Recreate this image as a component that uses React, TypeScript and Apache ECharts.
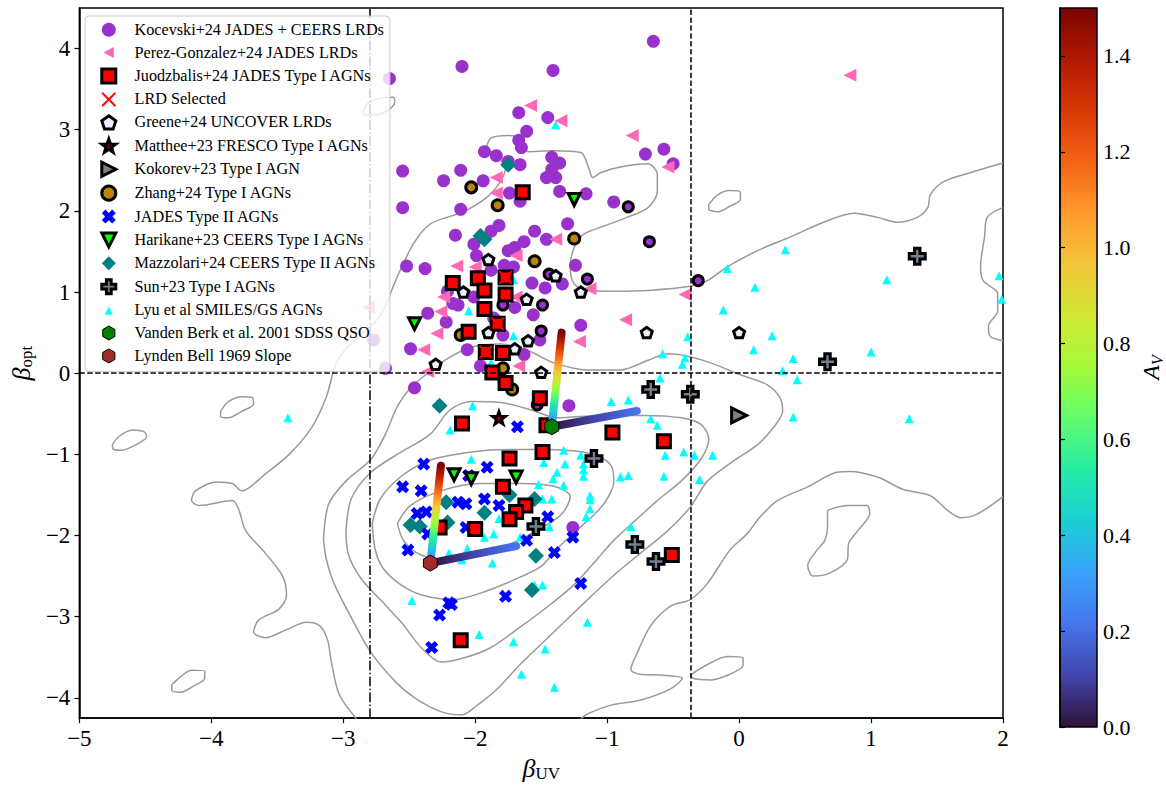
import React, { useEffect, useRef } from 'react';
import * as echarts from 'echarts';

// ---------- axis ticks ----------
const X_MIN = -5;
const X_MAX = 2;
const Y_MIN = -4.25;
const Y_MAX = 4.5;
const Y_TICKS = [-4, -3, -2, -1, 0, 1, 2, 3, 4];
const CB_MIN = 0;
const CB_MAX = 1.5;
const CB_TICKS = [0, 0.2, 0.4, 0.6, 0.8, 1.0, 1.2, 1.4];

// reference cuts
const BETA_UV_BLUE_CUT = -2.8;
const BETA_UV_RED_CUT = -0.37;
const BETA_OPT_CUT = 0;

// ---------- series values [beta_UV, beta_opt] ----------
const KOCEVSKI = [
  [-0.65, 4.09], [-2.10, 3.78], [-1.41, 3.73], [-2.65, 3.63], [-1.67, 3.21], [-1.45, 3.15], [-1.61, 2.98],
  [-1.67, 2.87], [-1.65, 2.78], [-1.93, 2.73], [-1.84, 2.68], [-1.75, 2.61], [-1.66, 2.57], [-1.42, 2.66],
  [-1.36, 2.59], [-1.42, 2.51], [-1.46, 2.41], [-1.39, 2.41], [-0.71, 2.70], [-0.57, 2.76], [-0.50, 2.58],
  [-2.55, 2.49], [-2.11, 2.50], [-2.24, 2.37], [-1.94, 2.37], [-1.36, 2.24], [-1.16, 2.21], [-1.74, 2.22],
  [-1.66, 2.12], [-2.55, 2.04], [-2.11, 2.02], [-0.95, 2.11], [-1.30, 1.84], [-2.15, 1.70], [-1.88, 1.75],
  [-1.82, 1.82], [-1.55, 1.75], [-1.46, 1.65], [-2.01, 1.59], [-1.99, 1.45], [-1.75, 1.51], [-1.70, 1.55],
  [-1.63, 1.62], [-2.52, 1.32], [-2.38, 1.29], [-1.78, 1.33], [-1.71, 1.31], [-1.88, 1.27], [-1.24, 1.33],
  [-1.57, 1.11], [-1.47, 1.05], [-1.34, 1.10], [-2.21, 1.01], [-2.17, 0.86], [-2.13, 0.84], [-2.01, 0.94],
  [-2.36, 0.74], [-2.22, 0.63], [-1.70, 0.81], [-1.56, 0.72], [-1.86, 0.68], [-1.20, 0.59], [-2.49, 0.30],
  [-2.06, 0.29], [-1.51, 0.41], [-1.96, 0.09], [-2.68, 0.06], [-1.79, 0.47], [-1.63, 0.23], [-2.77, 0.41],
  [-2.46, -0.18], [-1.29, -0.40], [-1.26, -1.90],
];
const KOCEVSKI_MATCHED = [
  [-0.84, 2.05], [-0.68, 1.62], [-1.15, 1.16], [-1.49, 0.84], [-1.50, 0.52], [-0.31, 1.14], [-1.44, 1.22],
  [-1.79, 0.84], [-1.53, -0.39],
];
const PEREZ = [
  [-2.81, 0.81], [-1.58, 3.30], [-1.35, 3.11], [-0.81, 2.93], [-0.54, 2.54], [-1.84, 2.41], [-1.84, 2.22],
  [-1.39, 1.65], [-2.14, 1.32], [-2.00, 1.31], [-2.24, 0.94], [-2.26, 0.76], [-2.29, 0.49], [-2.39, 0.29],
  [-2.36, 0.02], [-1.69, 1.45], [-1.69, 0.94], [-1.67, 0.09], [-1.13, 1.04], [-0.86, 0.66], [-1.21, 0.39],
  [-0.41, 0.97], [0.84, 3.67],
];
const JUODZBALIS = [
  [-1.64, 2.23], [-2.17, 1.11], [-1.98, 1.17], [-1.93, 1.02], [-1.77, 0.97], [-1.77, 1.18], [-1.93, 0.79],
  [-1.83, 0.61], [-2.05, 0.51], [-1.92, 0.26], [-1.79, 0.25], [-1.87, 0.01], [-1.77, -0.12], [-1.51, -0.31],
  [-1.46, -0.64], [-2.10, -0.62], [-0.96, -0.73], [-0.57, -0.84], [-1.49, -0.97], [-1.74, -1.05],
  [-1.79, -1.40], [-1.62, -1.63], [-1.69, -1.71], [-1.74, -1.80], [-2.27, -1.90], [-2.00, -1.92],
  [-0.51, -2.24], [-2.11, -3.29],
];
const LRD_SELECTED = [[-1.77, 1.18], [-1.83, 0.61], [-1.92, 0.26]];
const GREENE = [
  [-1.90, 1.40], [-2.09, 1.00], [-1.61, 0.91], [-1.39, 1.20], [-1.20, 1.00], [-1.60, 0.40], [-1.70, 0.30],
  [-1.90, 0.50], [-2.30, 0.11], [-1.50, 0.01], [-0.70, 0.50], [0.00, 0.50],
];
const MATTHEE = [[-1.82, -0.55]];
const KOKOREV = [[0.00, -0.52]];
const ZHANG = [[-2.03, 2.29], [-1.83, 2.07], [-1.25, 1.66], [-1.55, 1.38], [-1.79, 0.06], [-2.11, 0.47], [-1.72, -0.20]];
const JADES_T2 = [
  [-1.68, -0.66], [-2.39, -1.12], [-1.91, -1.16], [-2.55, -1.40], [-2.41, -1.45], [-2.05, -1.26], [-1.93, -1.55],
  [-2.13, -1.59], [-2.07, -1.61], [-1.82, -1.63], [-2.44, -1.73], [-2.37, -1.71], [-1.45, -1.77], [-2.07, -1.90],
  [-2.36, -1.98], [-1.61, -2.06], [-1.26, -2.02], [-2.51, -2.18], [-1.40, -2.21], [-1.20, -2.59], [-1.77, -2.75],
  [-2.20, -2.83], [-2.18, -2.85], [-2.27, -2.98], [-2.33, -3.38],
];
const HARIKANE = [[-1.25, 2.14], [-2.46, 0.61], [-2.16, -1.25], [-2.03, -1.30], [-1.69, -1.28]];
const MAZZOLARI = [
  [-1.75, 2.57], [-1.96, 1.69], [-1.93, 1.65], [-2.27, -0.40], [-2.49, -1.87], [-2.42, -1.89], [-2.22, -1.59],
  [-2.21, -1.84], [-1.93, -1.72], [-1.74, -1.50], [-1.55, -1.55], [-1.54, -2.25], [-1.57, -2.67],
];
const SUN = [[1.35, 1.44], [0.67, 0.14], [-0.67, -0.20], [-0.37, -0.26], [-1.10, -1.05], [-1.54, -1.89], [-0.79, -2.11], [-0.63, -2.32]];
const LYU = [
  [-1.39, 3.06], [-2.05, 0.77], [-1.71, 0.46], [-1.88, 0.13], [-0.58, 0.24], [-0.43, 0.11], [-0.41, 0.19],
  [-0.39, 0.45], [-0.60, -0.06], [-1.71, 1.15], [0.35, 1.52], [-0.09, 1.29], [0.12, 1.06], [-0.12, 0.78],
  [0.25, 0.46], [0.11, 0.29], [0.41, 0.18], [0.33, 0.03], [0.44, -0.08], [1.00, 0.26], [1.12, 1.15],
  [1.97, 1.20], [1.99, 0.91], [0.41, -0.54], [1.29, -0.56], [-0.34, -1.01], [-0.20, -1.01], [-0.30, -1.31],
  [-3.42, -0.55], [-0.97, -0.35], [-0.84, -0.33], [-2.02, -0.40], [-2.19, -0.70], [-0.67, -0.56], [-0.62, -0.64],
  [-0.56, -1.01], [-0.42, -0.97], [-0.57, -1.27], [-0.90, -1.28], [-0.84, -1.26], [-1.33, -0.95], [-1.20, -1.01],
  [-1.32, -1.12], [-1.18, -1.12], [-1.18, -1.19], [-1.18, -1.27], [-1.41, -1.30], [-1.33, -1.38], [-1.13, -1.51],
  [-1.13, -1.56], [-1.13, -1.67], [-1.16, -1.77], [-1.42, -1.55], [-1.52, -1.37], [-1.49, -1.55], [-1.48, -1.10],
  [-2.03, -1.06], [-1.82, -1.79], [-1.44, -1.89], [-1.66, -2.02], [-1.93, -2.02], [-1.86, -1.98], [-2.06, -2.16],
  [-2.20, -2.22], [-2.10, -2.30], [-1.87, -2.34], [-0.82, -1.89], [-1.55, -2.61], [-1.49, -2.61], [-1.15, -3.07],
  [-2.48, -2.80], [-1.97, -3.22], [-1.71, -3.31], [-1.47, -3.40], [-1.65, -3.71], [-1.40, -3.87], [-1.38, -1.22],
];
const VANDEN_BERK = [[-1.42, -0.66]];
const LYNDEN_BELL = [[-2.34, -2.34]];

// reddening tracks (A_V from the base point to the tip)
const VB_TRACK_A = [[-1.42, -0.66], [-1.345, 0.50]];
const VB_TRACK_B = [[-1.42, -0.66], [-0.775, -0.465]];
const LB_TRACK_A = [[-2.34, -2.34], [-2.26, -1.14]];
const LB_TRACK_B = [[-2.34, -2.34], [-1.69, -2.13]];

// ---------- density contours ----------
const CONTOUR_A = [[-2.59, -1.85], [-2.49, -1.63], [-2.26, -1.45], [-1.96, -1.36], [-1.66, -1.36], [-1.39, -1.40], [-1.28, -1.52], [-1.34, -1.73], [-1.50, -1.91], [-1.73, -2.10], [-2.00, -2.24], [-2.22, -2.30], [-2.41, -2.24], [-2.54, -2.07], [-2.59, -1.85]];
const CONTOUR_B = [[-2.78, -1.85], [-2.72, -1.55], [-2.56, -1.27], [-2.34, -1.07], [-2.03, -0.97], [-1.74, -0.94], [-1.45, -0.94], [-1.24, -0.96], [-1.07, -1.02], [-0.97, -1.14], [-0.95, -1.33], [-1.00, -1.55], [-1.09, -1.73], [-1.24, -1.95], [-1.39, -2.18], [-1.50, -2.38], [-1.71, -2.55], [-1.96, -2.71], [-2.16, -2.79], [-2.39, -2.74], [-2.56, -2.61], [-2.70, -2.40], [-2.76, -2.16], [-2.78, -1.85]];
const CONTOUR_C = [[-2.98, -1.97], [-2.94, -1.55], [-2.79, -1.22], [-2.56, -0.97], [-2.34, -0.75], [-2.19, -0.45], [-2.03, -0.35], [-1.81, -0.36], [-1.58, -0.45], [-1.38, -0.55], [-1.05, -0.52], [-0.72, -0.52], [-0.44, -0.55], [-0.29, -0.63], [-0.23, -0.81], [-0.29, -1.06], [-0.44, -1.33], [-0.62, -1.57], [-0.79, -1.82], [-0.95, -2.06], [-1.07, -2.28], [-1.24, -2.59], [-1.43, -2.85], [-1.66, -3.13], [-1.88, -3.38], [-2.07, -3.50], [-2.26, -3.56], [-2.41, -3.38], [-2.56, -3.07], [-2.72, -2.79], [-2.87, -2.52], [-2.96, -2.24], [-2.98, -1.97]];
const CONTOUR_D = [[-3.15, -2.04], [-3.11, -1.61], [-2.98, -1.33], [-2.79, -1.06], [-2.68, -0.75], [-2.59, -0.41], [-2.49, -0.18], [-2.36, 0.00], [-2.21, 0.18], [-2.03, 0.32], [-1.81, 0.36], [-1.60, 0.28], [-1.41, 0.13], [-1.15, 0.04], [-0.90, 0.04], [-0.69, 0.16], [-0.54, 0.24], [-0.39, 0.21], [-0.22, 0.13], [0.01, -0.02], [0.21, -0.14], [0.31, -0.30], [0.33, -0.47], [0.26, -0.67], [0.14, -0.88], [-0.04, -1.08], [-0.24, -1.33], [-0.37, -1.65], [-0.54, -1.94], [-0.75, -2.22], [-0.97, -2.52], [-1.20, -2.87], [-1.43, -3.23], [-1.66, -3.59], [-1.84, -3.90], [-2.00, -4.11], [-2.10, -4.21], [-2.26, -4.17], [-2.45, -4.01], [-2.60, -3.81], [-2.79, -3.44], [-2.94, -3.01], [-3.07, -2.59], [-3.13, -2.28], [-3.15, -2.04]];
const CONTOUR_E1 = [[-2.90, -4.26], [-3.03, -3.96], [-3.09, -3.56], [-3.12, -3.28], [-3.18, -3.11], [-3.28, -3.07], [-3.43, -3.16], [-3.59, -3.26], [-3.68, -3.19], [-3.64, -3.04], [-3.49, -2.91], [-3.43, -2.74], [-3.46, -2.50], [-3.59, -2.22], [-3.74, -1.94], [-3.79, -1.69], [-3.84, -1.57], [-4.09, -1.63], [-4.15, -1.57], [-4.12, -1.45], [-3.96, -1.34], [-3.84, -1.36], [-3.77, -1.45], [-3.59, -1.24], [-3.41, -1.00], [-3.24, -0.67], [-3.13, -0.30], [-3.06, 0.10], [-3.00, 0.26], [-2.87, 0.47], [-2.72, 0.71], [-2.59, 1.19], [-2.47, 1.59], [-2.34, 1.84], [-2.09, 1.99], [-1.91, 2.17], [-1.81, 2.36], [-1.77, 2.53], [-1.82, 2.65], [-1.91, 2.79], [-1.88, 2.90], [-1.75, 2.93], [-1.66, 2.91], [-1.60, 2.73], [-1.41, 2.74], [-1.20, 2.72], [-1.14, 2.53], [-1.11, 2.41], [-1.05, 2.47], [-0.90, 2.54], [-0.69, 2.58], [-0.62, 2.45], [-0.62, 2.24], [-0.69, 2.04], [-0.85, 1.92], [-1.03, 1.81], [-1.18, 1.71], [-1.25, 1.55], [-1.28, 1.31], [-1.25, 1.10], [-1.15, 1.02], [-0.95, 1.01], [-0.69, 1.02], [-0.37, 1.07], [-0.24, 1.14], [-0.09, 1.31], [0.14, 1.51], [0.39, 1.68], [0.64, 1.86], [0.87, 1.97], [1.05, 1.92], [1.20, 1.86], [1.35, 1.92], [1.43, 2.04], [1.45, 2.20], [1.55, 2.36], [1.77, 2.48], [2.00, 2.59]];
const CONTOUR_E2 = [[2.00, -1.52], [1.80, -1.74], [1.68, -1.78], [1.58, -1.69], [1.45, -1.51], [1.24, -1.43], [1.05, -1.28], [0.84, -1.21], [0.74, -1.22], [0.52, -1.40], [0.29, -1.57], [0.16, -1.77], [0.06, -1.98], [-0.07, -2.18], [-0.24, -2.59], [-0.37, -2.79], [-0.52, -2.87], [-0.67, -3.11], [-0.77, -3.44], [-0.82, -3.65], [-0.75, -3.71], [-0.60, -3.72], [-0.43, -3.76], [-0.52, -3.89], [-0.75, -4.03], [-0.97, -4.09], [-1.15, -4.20], [-1.20, -4.26]];
const CONTOUR_E3 = [[2.00, 2.04], [1.88, 1.92], [1.86, 1.68], [1.83, 1.31], [1.85, 1.14], [1.96, 0.98], [1.96, 0.77], [1.89, 0.58], [1.90, 0.46], [2.00, 0.40]];
const ISLAND_1 = [[-2.85, 3.22], [-2.81, 3.33], [-2.72, 3.39], [-2.62, 3.40], [-2.61, 3.34], [-2.66, 3.24], [-2.77, 3.18], [-2.84, 3.18], [-2.85, 3.22]];
const ISLAND_2 = [[-0.23, 2.08], [-0.16, 2.20], [-0.07, 2.25], [0.01, 2.23], [0.01, 2.14], [-0.07, 2.06], [-0.16, 1.99], [-0.23, 2.02], [-0.23, 2.08]];
const ISLAND_3 = [[-4.75, -0.88], [-4.70, -0.78], [-4.60, -0.70], [-4.51, -0.72], [-4.49, -0.78], [-4.57, -0.88], [-4.68, -0.95], [-4.74, -0.94], [-4.75, -0.88]];
const ISLAND_4 = [[-3.93, -0.47], [-3.87, -0.35], [-3.77, -0.29], [-3.69, -0.30], [-3.68, -0.38], [-3.77, -0.47], [-3.87, -0.55], [-3.93, -0.53], [-3.93, -0.47]];
const ISLAND_5 = [[-4.30, -3.84], [-4.24, -3.75], [-4.15, -3.66], [-4.05, -3.67], [-4.05, -3.76], [-4.13, -3.85], [-4.23, -3.93], [-4.30, -3.91], [-4.30, -3.84]];
const ISLAND_6 = [[0.67, -1.69], [0.82, -1.63], [0.97, -1.63], [0.99, -1.73], [0.90, -1.94], [0.83, -2.10], [0.82, -2.30], [0.69, -2.46], [0.56, -2.50], [0.52, -2.37], [0.59, -2.18], [0.65, -2.06], [0.67, -1.89], [0.67, -1.69]];
const ISLAND_7 = [[-0.37, -3.72], [-0.24, -3.59], [-0.09, -3.49], [0.03, -3.51], [0.03, -3.60], [-0.07, -3.71], [-0.22, -3.78], [-0.35, -3.76], [-0.37, -3.72]];

// ---------- names ----------
const N = {
  kocevski: 'Kocevski+24 JADES + CEERS LRDs',
  perez: 'Perez-Gonzalez+24 JADES LRDs',
  juod: 'Juodzbalis+24 JADES Type I AGNs',
  lrd: 'LRD Selected',
  greene: 'Greene+24 UNCOVER LRDs',
  matthee: 'Matthee+23 FRESCO Type I AGNs',
  kokorev: 'Kokorev+23 Type I AGN',
  zhang: 'Zhang+24 Type I AGNs',
  jades: 'JADES Type II AGNs',
  harikane: 'Harikane+23 CEERS Type I AGNs',
  mazz: 'Mazzolari+24 CEERS Type II AGNs',
  sun: 'Sun+23 Type I AGNs',
  lyu: 'Lyu et al SMILES/GS AGNs',
  vb: 'Vanden Berk et al. 2001 SDSS QSO',
  lb: 'Lynden Bell 1969 Slope',
};

const TURBO = ['#30123b', '#4145ab', '#4675ed', '#39a2fc', '#1bcfd4', '#24eca6', '#61fc6c', '#a4fc3b', '#d1e834', '#f3c63a', '#fe9b2d', '#f36315', '#d93806', '#b11901', '#7a0403'];

const SYM = {
  triLeft: 'path://M0,5L10,0L10,10Z',
  triRight: 'path://M10,5L0,0L0,10Z',
  triDown: 'path://M0,0L10,0L5,10Z',
  triUp: 'path://M5,0L10,10L0,10Z',
  pentagon: 'path://M0,-1L0.951,-0.309L0.588,0.809L-0.588,0.809L-0.951,-0.309Z',
  hexagon: 'path://M0,-1L0.866,-0.5L0.866,0.5L0,1L-0.866,0.5L-0.866,-0.5Z',
  star: 'path://M0,-1L0.235,-0.324L0.951,-0.309L0.38,0.124L0.588,0.809L0,0.4L-0.588,0.809L-0.38,0.124L-0.951,-0.309L-0.235,-0.324Z',
  thinX: 'path://M0,0L1.4,0L7,5.6L12.6,0L14,0L14,1.4L8.4,7L14,12.6L14,14L12.6,14L7,8.4L1.4,14L0,14L0,12.6L5.6,7L0,1.4Z',
  boldX: 'path://M0,2.6L2.6,0L5,2.4L7.4,0L10,2.6L7.6,5L10,7.4L7.4,10L5,7.6L2.6,10L0,7.4L2.4,5Z',
  plus: 'path://M3.3,0L6.7,0L6.7,3.3L10,3.3L10,6.7L6.7,6.7L6.7,10L3.3,10L3.3,6.7L0,6.7L0,3.3L3.3,3.3Z',
};
const LEG_TRI_LEFT = 'path://M0,0M14,14M1.5,7L12,1.5L12,12.5Z';
const LEG_TRI_UP = 'path://M0,0M14,14M3,11.5L7,3.5L11,11.5Z';

const SERIF = 'Liberation Serif';
const fmtMinus = (v: number) => (v < 0 ? '\u2212' + Math.abs(v) : String(v));

function scatter(name: string, data: number[][], symbol: string, size: number, itemStyle: any) {
  return {
    type: 'scatter', name, data, symbol, symbolSize: size, symbolKeepAspect: true,
    itemStyle: { borderJoin: 'miter', opacity: 1, ...itemStyle }, silent: true, emphasis: { disabled: true },
    xAxisIndex: 0, yAxisIndex: 0,
  };
}
function contour(data: number[][], extra: any = {}) {
  return {
    type: 'line', data, showSymbol: false, symbol: 'none', smooth: 0.3, silent: true, z: 1,
    lineStyle: { color: '#9a9a9a', width: 1.5 }, emphasis: { disabled: true },
    xAxisIndex: 0, yAxisIndex: 0, ...extra,
  };
}
function track(data: number[][], vertical: boolean) {
  const colors = vertical ? TURBO.slice(2) : TURBO.slice(0, 3);
  const colorStops = colors.map((c, i) => ({ offset: i / (colors.length - 1), color: c }));
  return {
    type: 'line', data, showSymbol: false, symbol: 'none', silent: true, z: 5,
    lineStyle: {
      width: 8, cap: 'round', opacity: 1,
      color: vertical
        ? { type: 'linear', x: 0, y: 1, x2: 0, y2: 0, colorStops }
        : { type: 'linear', x: 0, y: 0, x2: 1, y2: 0, colorStops },
    },
    emphasis: { disabled: true }, xAxisIndex: 0, yAxisIndex: 0,
  };
}

function buildOption() {
  const dashed = [5.5, 2.4];
  const dashDot = [9.6, 2.4, 1.5, 2.4];
  const legendData = [
    { name: N.kocevski, icon: 'circle', itemStyle: { color: '#9932CC', borderWidth: 0 } },
    { name: N.perez, icon: LEG_TRI_LEFT, itemStyle: { color: '#FF69B4', borderWidth: 0 } },
    { name: N.juod, icon: 'rect', itemStyle: { color: '#FF0000', borderColor: '#000', borderWidth: 3 } },
    { name: N.lrd, icon: SYM.thinX, itemStyle: { color: '#FF0000', borderWidth: 0 } },
    { name: N.greene, icon: SYM.pentagon, itemStyle: { color: '#EEEEFF', borderColor: '#000', borderWidth: 3 } },
    { name: N.matthee, icon: SYM.star, itemStyle: { color: '#8B0000', borderColor: '#000', borderWidth: 3 } },
    { name: N.kokorev, icon: SYM.triRight, itemStyle: { color: '#808080', borderColor: '#000', borderWidth: 3 } },
    { name: N.zhang, icon: 'circle', itemStyle: { color: '#B8860B', borderColor: '#000', borderWidth: 3 } },
    { name: N.jades, icon: SYM.boldX, itemStyle: { color: '#0000FF', borderWidth: 0 } },
    { name: N.harikane, icon: SYM.triDown, itemStyle: { color: '#00FF00', borderColor: '#000', borderWidth: 3 } },
    { name: N.mazz, icon: 'diamond', itemStyle: { color: '#008080', borderWidth: 0 } },
    { name: N.sun, icon: SYM.plus, itemStyle: { color: '#708090', borderColor: '#000', borderWidth: 3 } },
    { name: N.lyu, icon: LEG_TRI_UP, itemStyle: { color: '#00FFFF', borderWidth: 0 } },
    { name: N.vb, icon: SYM.hexagon, itemStyle: { color: '#008000', borderColor: '#000', borderWidth: 1 } },
    { name: N.lb, icon: SYM.hexagon, itemStyle: { color: '#A52A2A', borderColor: '#000', borderWidth: 1 } },
  ];

  const series: any[] = [
    contour(CONTOUR_A, {
      markLine: {
        silent: true, symbol: ['none', 'none'], label: { show: false }, emphasis: { disabled: true },
        lineStyle: { color: '#000', width: 1.5 },
        data: [
          { xAxis: BETA_UV_BLUE_CUT, lineStyle: { color: '#000', width: 1.5, type: dashDot } },
          { xAxis: BETA_UV_RED_CUT, lineStyle: { color: '#000', width: 1.5, type: dashed } },
          { yAxis: BETA_OPT_CUT, lineStyle: { color: '#000', width: 1.5, type: dashed } },
        ],
      },
    }),
    contour(CONTOUR_B), contour(CONTOUR_C), contour(CONTOUR_D),
    contour(CONTOUR_E1), contour(CONTOUR_E2), contour(CONTOUR_E3),
    contour(ISLAND_1), contour(ISLAND_2), contour(ISLAND_3), contour(ISLAND_4),
    contour(ISLAND_5), contour(ISLAND_6), contour(ISLAND_7),

    scatter(N.lyu, LYU, SYM.triUp, 9, { color: '#00FFFF' }),
    scatter(N.kocevski, KOCEVSKI, 'circle', 13, { color: '#9932CC' }),
    scatter(N.perez, PEREZ, SYM.triLeft, 13, { color: '#FF69B4' }),
    scatter(N.mazz, MAZZOLARI, 'diamond', 16, { color: '#008080' }),
    scatter(N.jades, JADES_T2, SYM.boldX, 13, { color: '#0000FF' }),
    scatter(N.zhang, ZHANG, 'circle', 11, { color: '#B8860B', borderColor: '#000', borderWidth: 3 }),
    scatter('Kocevski matched', KOCEVSKI_MATCHED, 'circle', 10, { color: '#9932CC', borderColor: '#000', borderWidth: 3 }),
    scatter(N.juod, JUODZBALIS, 'rect', 13, { color: '#FF0000', borderColor: '#000', borderWidth: 3 }),
    scatter(N.lrd, LRD_SELECTED, SYM.thinX, 13, { color: '#FF0000' }),
    scatter(N.greene, GREENE, SYM.pentagon, 11, { color: '#EEEEFF', borderColor: '#000', borderWidth: 3 }),
    scatter(N.matthee, MATTHEE, SYM.star, 14, { color: '#8B0000', borderColor: '#000', borderWidth: 2.5 }),
    scatter(N.kokorev, KOKOREV, SYM.triRight, 15, { color: '#808080', borderColor: '#000', borderWidth: 3 }),
    scatter(N.harikane, HARIKANE, SYM.triDown, 12, { color: '#00FF00', borderColor: '#000', borderWidth: 3 }),
    scatter(N.sun, SUN, SYM.plus, 16, { color: '#708090', borderColor: '#000', borderWidth: 3 }),

    track(VB_TRACK_A, true), track(VB_TRACK_B, false),
    track(LB_TRACK_A, true), track(LB_TRACK_B, false),

    { ...scatter(N.vb, VANDEN_BERK, SYM.hexagon, 16, { color: '#008000', borderColor: '#000', borderWidth: 1 }), z: 6 },
    { ...scatter(N.lb, LYNDEN_BELL, SYM.hexagon, 16, { color: '#A52A2A', borderColor: '#000', borderWidth: 1 }), z: 6 },
  ];

  const cbStops = TURBO.map((c, i) => ({ offset: i / (TURBO.length - 1), color: c }));

  return {
    animation: false,
    backgroundColor: '#ffffff',
    textStyle: { fontFamily: SERIF },
    grid: [
      { left: 78, top: 8, width: 925, height: 719, show: true, borderColor: '#000', borderWidth: 1.5, backgroundColor: 'transparent' },
      { left: 1060, top: 8, width: 37, height: 719, show: false },
    ],
    xAxis: [
      {
        type: 'value', gridIndex: 0, min: X_MIN, max: X_MAX, interval: 1,
        axisLine: { show: true, onZero: false, lineStyle: { color: '#000', width: 1.5 } },
        axisTick: { show: true, inside: false, length: 5, lineStyle: { color: '#000', width: 1.2 } },
        axisLabel: { color: '#000', fontFamily: SERIF, fontSize: 23, margin: 9, formatter: fmtMinus },
        splitLine: { show: false },
        name: '{b|β}{s|UV}', nameLocation: 'middle', nameGap: 30,
        nameTextStyle: {
          rich: {
            b: { fontFamily: SERIF, fontStyle: 'italic', fontSize: 26, lineHeight: 28, color: '#000' },
            s: { fontFamily: SERIF, fontSize: 17, lineHeight: 14, verticalAlign: 'bottom', color: '#000' },
          },
        },
      },
      { type: 'value', gridIndex: 1, min: 0, max: 1, show: false },
    ],
    yAxis: [
      {
        type: 'value', gridIndex: 0, min: Y_MIN, max: Y_MAX,
        axisLine: { show: true, onZero: false, lineStyle: { color: '#000', width: 1.5 } },
        axisTick: { show: true, inside: false, length: 5, customValues: Y_TICKS, lineStyle: { color: '#000', width: 1.2 } },
        axisLabel: { color: '#000', fontFamily: SERIF, fontSize: 23, margin: 9, customValues: Y_TICKS, formatter: fmtMinus },
        splitLine: { show: false },
        name: '{b|β}{s|opt}', nameLocation: 'middle', nameGap: 38, nameRotate: 90,
        nameTextStyle: {
          rich: {
            b: { fontFamily: SERIF, fontStyle: 'italic', fontSize: 26, lineHeight: 28, color: '#000' },
            s: { fontFamily: SERIF, fontSize: 17, lineHeight: 14, verticalAlign: 'bottom', color: '#000' },
          },
        },
      },
      {
        type: 'value', gridIndex: 1, min: CB_MIN, max: CB_MAX, position: 'right',
        axisLine: { show: true, lineStyle: { color: '#000', width: 1.5 } },
        axisTick: { show: true, inside: false, length: 5, customValues: CB_TICKS, lineStyle: { color: '#000', width: 1.2 } },
        axisLabel: { color: '#000', fontFamily: SERIF, fontSize: 22, margin: 8, customValues: CB_TICKS, formatter: (v: number) => v.toFixed(1) },
        splitLine: { show: false },
        name: '{a|A}{v|V}', nameLocation: 'middle', nameGap: 42, nameRotate: 90,
        nameTextStyle: {
          rich: {
            a: { fontFamily: SERIF, fontStyle: 'italic', fontSize: 24, lineHeight: 28, color: '#000' },
            v: { fontFamily: SERIF, fontStyle: 'italic', fontSize: 16, lineHeight: 14, verticalAlign: 'bottom', color: '#000' },
          },
        },
      },
    ],
    graphic: [
      {
        type: 'rect', z: 0, silent: true,
        shape: { x: 1060, y: 8, width: 37, height: 719 },
        style: { fill: { type: 'linear', x: 0, y: 1, x2: 0, y2: 0, colorStops: cbStops }, stroke: '#000', lineWidth: 1.5 },
      },
    ],
    legend: {
      show: true, orient: 'vertical', left: 85, top: 16, z: 10,
      itemWidth: 14, itemHeight: 14, itemGap: 6.9,
      padding: [5.7, 6, 7.7, 15.3],
      backgroundColor: 'rgba(255,255,255,0.8)', borderColor: '#cccccc', borderWidth: 1, borderRadius: 4,
      selectedMode: false,
      textStyle: { fontFamily: SERIF, fontSize: 16.2, color: '#000', lineHeight: 14, padding: [0, 0, 0, 13.7] },
      data: legendData,
    },
    series,
  };
}

export default function App() {
  const ref = useRef<HTMLDivElement>(null);
  useEffect(() => {
    document.body.style.margin = '0';
    const chart = echarts.init(ref.current as HTMLDivElement, null, { renderer: 'svg' });
    chart.setOption(buildOption() as any);
    return () => chart.dispose();
  }, []);
  return <div ref={ref} style={{ width: 1166, height: 787 }} />;
}
